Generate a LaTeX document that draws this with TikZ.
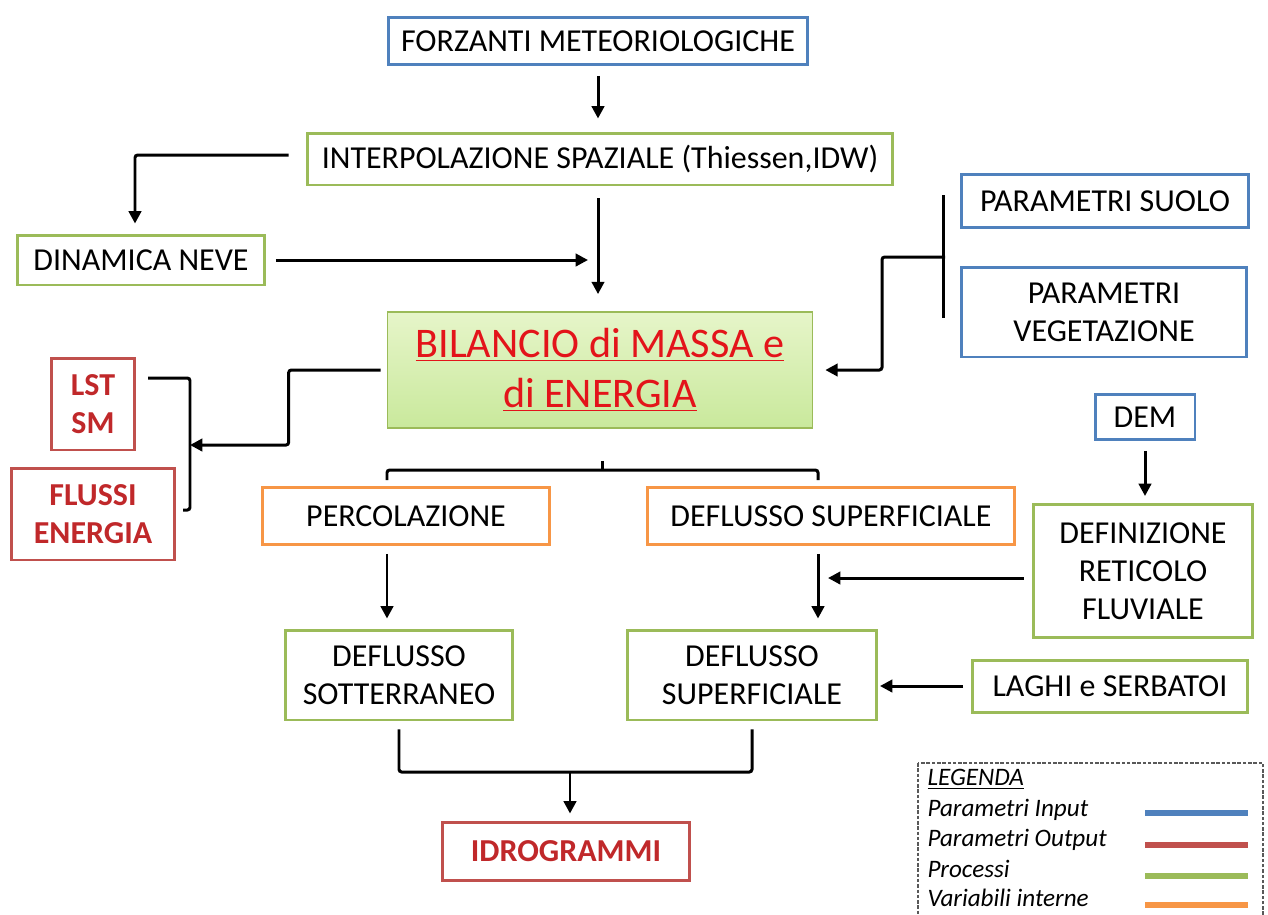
\documentclass[tikz,border=0pt]{standalone}
\usepackage{fontspec}
\setmainfont{Carlito}
\usetikzlibrary{arrows.meta}
\definecolor{inblue}{HTML}{4F81BD}
\definecolor{outred}{HTML}{C0504D}
\definecolor{procgreen}{HTML}{9BBB59}
\definecolor{varorange}{HTML}{F79646}
\definecolor{bilred}{HTML}{E3141A}
\definecolor{outtext}{HTML}{C0282A}
\definecolor{biltop}{HTML}{E6F5C9}
\definecolor{bilbot}{HTML}{C9E99C}

\begin{document}
\begin{tikzpicture}[x=0.02cm, y=-0.02cm,
      every node/.style = {draw, line width=1.7pt, align=center, inner sep=2pt,
        font=\fontsize{18.2}{21.5}\selectfont},
      inbox/.style = {draw=inblue},
      outbox/.style = {draw=outred, text=outtext, font=\fontsize{18.2}{22}\selectfont\bfseries},
      procbox/.style = {draw=procgreen},
      varbox/.style = {draw=varorange},
      conn/.style = {line width=1.7pt, rounded corners=1.5pt},
      arr/.style = {conn, -{Triangle[length=7pt,width=7pt]}},
      legtext/.style = {draw=none, anchor=west, inner sep=0pt,
        font=\fontsize{14.3}{17}\selectfont\itshape}]
    \useasboundingbox (0,0) rectangle (1268,914);
    \node[inbox, minimum width=8.4cm, minimum height=0.94cm] (forz) at (598,41) {FORZANTI METEORIOLOGICHE};
    \node[procbox, minimum width=11.72cm, minimum height=1.04cm] (interp) at (600,159) {INTERPOLAZIONE SPAZIALE (Thiessen,IDW)};
    \node[procbox, minimum width=4.94cm, minimum height=1cm] (neve) at (141,260) {DINAMICA NEVE};
    \node[inbox, minimum width=5.74cm, minimum height=1.06cm] (suolo) at (1105,201) {PARAMETRI SUOLO};
    \node[inbox, minimum width=5.7cm, minimum height=1.8cm] (veg) at (1104,312) {PARAMETRI\\VEGETAZIONE};
    \node[procbox, line width=1pt, top color=biltop, bottom color=bilbot, text=bilred,
      minimum width=8.5cm, minimum height=2.32cm, font=\fontsize{24}{28.5}\selectfont] (bil) at (600,370)
      {\underline{BILANCIO di MASSA e}\\\underline{di ENERGIA}};
    \node[outbox, minimum width=1.66cm, minimum height=1.84cm] (lst) at (93,404) {LST\\SM};
    \node[outbox, minimum width=3.28cm, minimum height=1.84cm] (flussi) at (93,514) {FLUSSI\\ENERGIA};
    \node[inbox, minimum width=2cm, minimum height=0.9cm] (dem) at (1145,417) {DEM};
    \node[varbox, minimum width=5.74cm, minimum height=1.14cm] (perc) at (406,516) {PERCOLAZIONE};
    \node[varbox, minimum width=7.34cm, minimum height=1.14cm] (defsup) at (831,516) {DEFLUSSO SUPERFICIALE};
    \node[procbox, minimum width=4.4cm, minimum height=2.66cm] (retic) at (1143,571) {DEFINIZIONE\\RETICOLO\\FLUVIALE};
    \node[procbox, minimum width=4.56cm, minimum height=1.8cm] (sott) at (399,675) {DEFLUSSO\\SOTTERRANEO};
    \node[procbox, minimum width=4.98cm, minimum height=1.8cm] (supgr) at (752,675) {DEFLUSSO\\SUPERFICIALE};
    \node[procbox, minimum width=5.5cm, minimum height=1.04cm] (laghi) at (1110,686) {LAGHI e SERBATOI};
    \node[outbox, minimum width=4.94cm, minimum height=1.16cm] (idro) at (566,851) {IDROGRAMMI};

    \coordinate (pbr) at (945,257);
    \coordinate (obr) at (190,445);
    \coordinate (otop) at (148,378);
    \coordinate (obot) at (183,510);
    \coordinate (bbr) at (602,470);
    \coordinate (bl) at (387,480);
    \coordinate (brr) at (818,480);
    \coordinate (ibr) at (570,772);

    \draw[arr, shorten <=0.2cm, shorten >=0.26cm] (forz.south) -- (forz.south |- interp.north);
    \draw[arr, shorten <=0.34cm, shorten >=0.2cm] ([yshift=0.08cm]interp.west) -| ([xshift=-0.12cm]neve.north);
    \draw[arr, shorten <=0.24cm, shorten >=0.34cm] ([xshift=-0.04cm]interp.south) -- ([xshift=-0.04cm]interp.south |- bil.north);
    \draw[arr, shorten <=0.2cm, shorten >=0.2cm] (neve.east) -- (neve.east -| forz.south);
    \draw[conn, shorten <=-0.12cm, shorten >=-0.12cm] ([xshift=-0.34cm]suolo.west) -- ([xshift=-0.34cm]suolo.west |- veg.west);
    \draw[arr, shorten >=0.24cm] (pbr) -- ++(-63,0) |- (bil.east);
    \draw[arr, shorten <=0.12cm] (bil.west) -- ++(-98,0) |- (obr);
    \draw[conn] (otop) -| (obr) |- (obot);
    \draw[conn] ([yshift=-0.64cm]bil.south -| bbr) -- (bbr);
    \draw[conn] (bl) |- (bbr) -| (brr);
    \draw[arr, shorten <=0.16cm, shorten >=0.2cm] (perc.south -| bl) -- (sott.north -| bl);
    \draw[arr, shorten <=0.16cm, shorten >=0.2cm] (defsup.south -| brr) -- (supgr.north -| brr);
    \draw[arr, shorten <=0.2cm, shorten >=0.14cm] (dem.south) -- (dem.south |- retic.north);
    \draw[arr, shorten <=0.16cm, shorten >=0.2cm] ([yshift=-0.14cm]retic.west) -- ([yshift=-0.14cm]retic.west -| brr);
    \draw[arr, shorten <=0.16cm, shorten >=0.04cm] (laghi.west) -- (laghi.west -| supgr.east);
    \draw[conn, shorten <=0.16cm, shorten >=0.16cm] (sott.south) |- (ibr) -| (supgr.south);
    \draw[arr, shorten >=0.14cm] (ibr) -- (ibr |- idro.north);

    \draw[gray!70!black, line width=0.6pt, dash pattern=on 2pt off 1pt] (918,763) rectangle (1263,930);
    \node[legtext] (legtit) at (926,779) {\underline{LEGENDA}};
    \node[legtext] (legin) at (926,810) {Parametri Input};
    \node[legtext] (legout) at (926,840) {Parametri Output};
    \node[legtext] (legproc) at (926,869) {Processi};
    \node[legtext] (legvar) at (926,898) {Variabili interne};
    \draw[inblue, line width=3pt] (1145,813) -- (1248,813);
    \draw[outred, line width=3pt] (1145,845) -- (1248,845);
    \draw[procgreen, line width=3pt] (1145,876) -- (1248,876);
    \draw[varorange, line width=3pt] (1145,905) -- (1248,905);
\end{tikzpicture}
\end{document}
